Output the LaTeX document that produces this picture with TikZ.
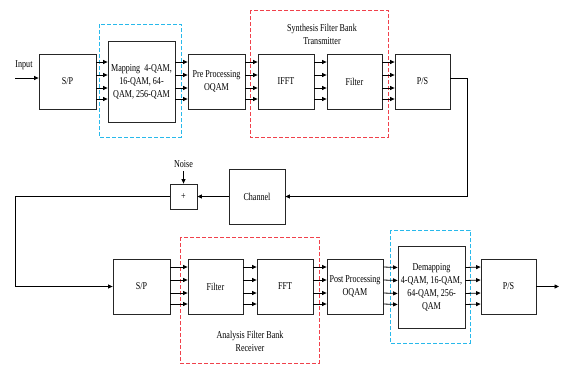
\documentclass[tikz,border=0pt]{standalone}
\usepackage{fontspec}
\setmainfont[FakeStretch=0.77]{Liberation Serif}
\usetikzlibrary{arrows.meta}
\definecolor{mapblue}{RGB}{40,185,235}
\definecolor{bankred}{RGB}{240,65,75}
\begin{document}
\begin{tikzpicture}[x=1pt,y=-1pt,
  font=\fontsize{10.5}{13}\selectfont,
  >={Triangle[length=4.5pt,width=4pt]},
  blk/.style={draw=black!85, line width=0.8pt, align=center, inner sep=1pt},
  bank/.style={dash pattern=on 4pt off 2pt, line width=0.9pt}]
\useasboundingbox (0,0) rectangle (561,365);
% transmitter
\node[blk, minimum width=57pt, minimum height=55pt] (sp) at (67.5,81.5) {S/P};
\node[blk, minimum width=67pt, minimum height=81pt] (map) at (141.5,81.5) {Mapping \ 4-QAM,\\16-QAM, 64-\\QAM, 256-QAM};
\node[blk, minimum width=57pt, minimum height=55pt] (pre) at (216.5,81.5) {Pre Processing\\OQAM};
\node[blk, minimum width=56pt, minimum height=55pt] (ifft) at (286,81.5) {IFFT};
\node[blk, minimum width=55pt, minimum height=55pt] (sfil) at (354.5,81.5) {Filter};
\node[blk, minimum width=55pt, minimum height=55pt] (ps) at (422.5,81.5) {P/S};
\node (in) at (24,65) {Input};
\coordinate (start) at (15,78);
\draw[->, line width=0.8pt] (start) -- (start -| sp.west);
\draw[mapblue, bank] (99,24) rectangle (181,137);
\draw[bankred, bank] (250,10) rectangle (388,137);
\node[align=center] (synth) at (322,34) {Synthesis Filter Bank\\Transmitter};
% channel
\node[blk, minimum width=56pt, minimum height=55pt] (ch) at (257,196.5) {Channel};
\node[blk, minimum width=27pt, minimum height=25pt] (add) at (183.5,196.5) {+};
\node (noise) at (183.5,164) {Noise};
\coordinate (turn) at (467,78);
\draw[->, line width=0.8pt] (ps.east |- turn) -- (turn) |- (ch.east);
\draw[->, line width=0.8pt] (ch.west) -- (add.east);
\draw[->, line width=0.8pt] (noise.south) -- (add.north);
% receiver
\node[blk, minimum width=57pt, minimum height=55pt] (sp2) at (141.5,286.5) {S/P};
\node[blk, minimum width=55pt, minimum height=55pt] (afil) at (215.5,286.5) {Filter};
\node[blk, minimum width=56pt, minimum height=55pt] (fft) at (285,286.5) {FFT};
\node[blk, minimum width=56pt, minimum height=55pt] (post) at (355,286.5) {Post Processing\\OQAM};
\node[blk, minimum width=67pt, minimum height=82pt] (demap) at (431.5,287) {Demapping\\4-QAM, 16-QAM,\\64-QAM, 256-\\QAM};
\node[blk, minimum width=55pt, minimum height=55pt] (ps2) at (508.5,286.5) {P/S};
\coordinate (back) at (15,196.5);
\draw[->, line width=0.8pt] (add.west) -- (back) |- (sp2.west);
\coordinate (out) at (559,286.5);
\draw[->, line width=0.8pt] (ps2.east) -- (out);
\draw[bankred, bank] (180,237) rectangle (319,363);
\draw[mapblue, bank] (390,230) rectangle (470,343);
\node[align=center] (anal) at (250,341) {Analysis Filter Bank\\Receiver};
% parallel streams
\foreach \a/\b in {sp/map,map/pre,pre/ifft,ifft/sfil,sfil/ps,sp2/afil,afil/fft,fft/post,post/demap,demap/ps2}
  \foreach \d in {19.5,6.5,-6.5,-17.5}
    \draw[->, line width=0.8pt] ([yshift=\d pt]\a.east) -- ([yshift=\d pt]\b.west);
\end{tikzpicture}
\end{document}
